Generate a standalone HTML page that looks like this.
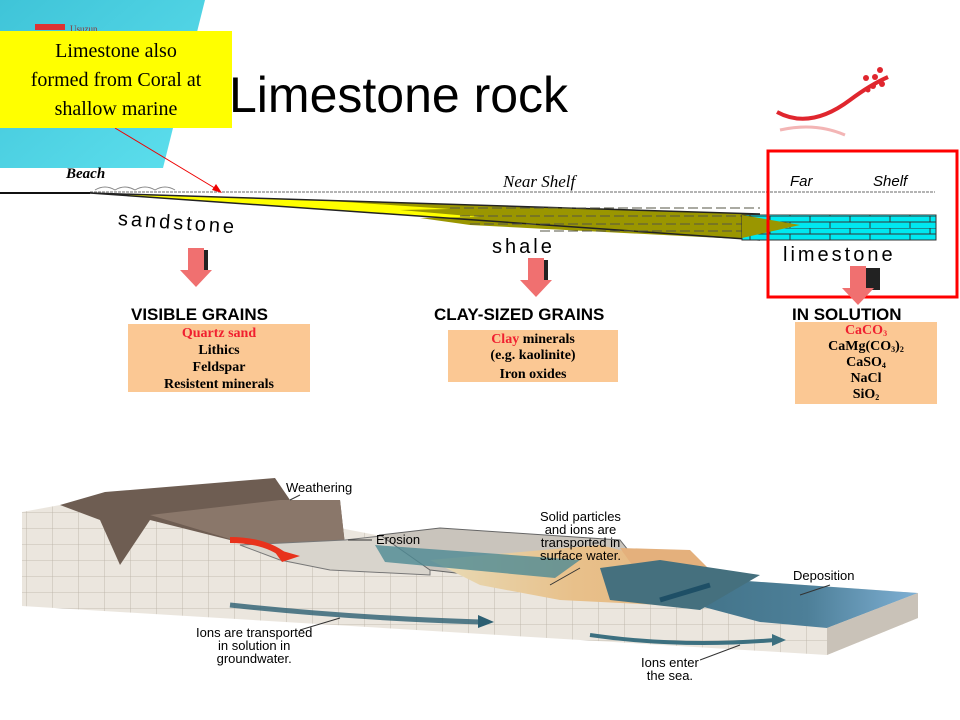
<!DOCTYPE html>
<html><head><meta charset="utf-8"><style>
body{margin:0;width:960px;height:720px;background:#fff;overflow:hidden;position:relative;font-family:"Liberation Sans",sans-serif}
.a{position:absolute}
sub{font-size:8px;line-height:0;vertical-align:-2px}
</style></head><body>
<svg class="a" style="left:0;top:0" width="960" height="720">
<defs>
<linearGradient id="cy" x1="0" y1="0" x2="1" y2="1"><stop offset="0" stop-color="#3fc4d8"/><stop offset="1" stop-color="#5ee0ee"/></linearGradient>
<pattern id="brick" width="40" height="12" patternUnits="userSpaceOnUse"><rect width="40" height="12" fill="#00e8f0"/><path d="M0 0H40M0 6H40M10 0V6M30 6V12" stroke="#333" stroke-width="1"/></pattern>
<pattern id="grid" width="26" height="16" patternUnits="userSpaceOnUse"><rect width="26" height="16" fill="#ebe6de"/><path d="M0 0H26M0 0V16" stroke="#b8b0a4" stroke-width="0.8"/></pattern>
<linearGradient id="sea" x1="0" y1="0" x2="1" y2="0"><stop offset="0" stop-color="#3d6e82"/><stop offset="0.6" stop-color="#4d7f98"/><stop offset="1" stop-color="#7fb0d4"/></linearGradient>
<linearGradient id="sand" x1="0" y1="0" x2="1" y2="0"><stop offset="0" stop-color="#e8dcb8"/><stop offset="0.5" stop-color="#e8c08a"/><stop offset="1" stop-color="#e4b480"/></linearGradient>
</defs>
<polygon points="0,0 205,0 163,168 0,168" fill="url(#cy)"/>
<rect x="35" y="24" width="30" height="6" fill="#d33"/>
<text x="70" y="32" font-size="9" font-family="Liberation Serif" fill="#833">Usuzun</text>
<path d="M777 112 Q810 130 850 100 Q870 85 888 77" stroke="#e0262e" stroke-width="4" fill="none"/>
<path d="M780 130 Q815 122 845 135" stroke="#f3b5b5" stroke-width="3" fill="none"/>
<g fill="#e0262e"><circle cx="866" cy="78" r="3"/><circle cx="875" cy="77" r="3"/><circle cx="880" cy="70" r="3"/><circle cx="873" cy="86" r="3"/><circle cx="882" cy="84" r="3"/><circle cx="868" cy="90" r="2.5"/></g>
<path d="M0 193 L90 193" stroke="#111" stroke-width="2"/>
<path d="M90 192 H935" stroke="#888" stroke-width="1.2" stroke-dasharray="3 1"/>
<path d="M95 190 q10 -6 20 0 q10 -6 20 0 q10 -6 20 0 q10 -6 20 0" stroke="#888" fill="none"/>
<polygon points="90,193 760,214 760,240" fill="#ffff00"/>
<polygon points="330,201 760,214 760,240 470,225 420,218 480,217 400,210 450,209" fill="#9a9600"/>
<path d="M90,193 L760,214 M90,193 L760,240" stroke="#222" stroke-width="1.5"/>
<path d="M450 208 H760 M460 216 H760 M470 224 H760 M540 231 H760" stroke="#554" stroke-width="1" stroke-dasharray="10 4"/>
<rect x="742" y="215" width="194" height="25" fill="url(#brick)" stroke="#333"/>
<polygon points="742,215 800,225 742,238" fill="#9a9600"/>
<rect x="768" y="151" width="189" height="146" fill="none" stroke="#f00" stroke-width="3"/>
<line x1="115" y1="128" x2="218" y2="190" stroke="#e00" stroke-width="1"/>
<polygon points="222,193 212,190 216,184" fill="#e00"/>
<g>
<rect x="192" y="250" width="16" height="22" fill="#222"/><rect x="188" y="248" width="16" height="22" fill="#f07070"/><polygon points="180,270 212,270 196,287" fill="#f07070"/>
<rect x="532" y="260" width="16" height="22" fill="#222"/><rect x="528" y="258" width="16" height="22" fill="#f07070"/><polygon points="520,280 552,280 536,297" fill="#f07070"/>
<rect x="864" y="268" width="16" height="22" fill="#222"/><rect x="850" y="266" width="16" height="22" fill="#f07070"/><polygon points="842,288 874,288 858,305" fill="#f07070"/>
</g>
<rect x="128" y="324" width="182" height="68" fill="#fbc894"/>
<rect x="448" y="330" width="170" height="52" fill="#fbc894"/>
<rect x="795" y="322" width="142" height="82" fill="#fbc894"/>
<!-- bottom illustration -->
<polygon points="22,512 60,505 280,485 300,520 350,530 480,555 705,578 918,593 918,618 827,655 22,606" fill="url(#grid)"/>
<polygon points="60,505 105,492 275,478 290,500 340,500 345,545 250,545 150,520 120,565 100,520" fill="#6e5d52"/>
<polygon points="150,515 280,500 340,500 345,545 250,545" fill="#8a776a"/>
<polygon points="240,545 345,540 390,535 430,550 430,575 330,570 280,560" fill="#d8d4cc" stroke="#777"/>
<polygon points="380,535 440,528 620,540 640,565 560,585 430,570" fill="#c9c4bc" stroke="#666"/>
<polygon points="430,560 600,545 700,570 720,585 660,605 560,600 480,585" fill="url(#sand)"/>
<polygon points="620,548 690,550 715,575 650,590" fill="#e4b07c"/>
<polygon points="375,545 580,560 555,578 385,562" fill="#4e8a94" opacity="0.8"/>
<polygon points="640,590 705,578 918,593 827,628 760,622" fill="url(#sea)"/>
<polygon points="600,568 660,560 760,575 700,610 610,600" fill="#45707e"/>
<polygon points="827,628 918,593 918,618 827,655" fill="#c9c2b8"/>
<path d="M230,540 Q265,540 285,556" stroke="#e8321c" stroke-width="6" fill="none"/>
<polygon points="272,548 300,556 282,562" fill="#e8321c"/>
<path d="M230,605 Q350,618 480,622" stroke="#2c5f72" stroke-width="5" fill="none" opacity="0.8"/>
<polygon points="478,615 494,622 478,628" fill="#2c5f72"/>
<path d="M590,635 Q680,648 775,640" stroke="#3c7080" stroke-width="4" fill="none"/>
<polygon points="772,634 786,640 772,646" fill="#3c7080"/>
<path d="M660,600 L710,585" stroke="#1e4f66" stroke-width="5"/>
<g stroke="#333" stroke-width="1"><line x1="290" y1="500" x2="300" y2="495"/><line x1="348" y1="540" x2="372" y2="540"/><line x1="550" y1="585" x2="580" y2="568"/><line x1="800" y1="595" x2="830" y2="585"/><line x1="300" y1="630" x2="340" y2="618"/><line x1="700" y1="660" x2="740" y2="645"/></g>
</svg>

<div class="a" style="left:0;top:31px;width:232px;height:97px;background:#ffff00;font-family:'Liberation Serif',serif;font-size:20px;line-height:29px;text-align:center;padding-top:6px;box-sizing:border-box">Limestone also<br>formed from Coral at<br>shallow marine</div>
<div class="a" style="left:229px;top:66px;font-size:50px;color:#000">Limestone rock</div>

<div class="a" style="left:66px;top:166px;font-family:'Liberation Serif',serif;font-style:italic;font-weight:bold;font-size:15px">Beach</div>
<div class="a" style="left:503px;top:172px;font-family:'Liberation Serif',serif;font-style:italic;font-size:17px">Near Shelf</div>
<div class="a" style="left:790px;top:173px;font-style:italic;font-size:15px">Far</div>
<div class="a" style="left:873px;top:173px;font-style:italic;font-size:15px">Shelf</div>
<div class="a" style="left:118px;top:208px;font-size:20px;letter-spacing:3px;transform:rotate(4deg);transform-origin:left">sandstone</div>
<div class="a" style="left:492px;top:236px;font-size:20px;letter-spacing:3px">shale</div>
<div class="a" style="left:783px;top:244px;font-size:20px;letter-spacing:3px">limestone</div>

<div class="a" style="left:131px;top:305px;font-size:17px;font-weight:bold">VISIBLE GRAINS</div>
<div class="a" style="left:434px;top:305px;font-size:17px;font-weight:bold">CLAY-SIZED GRAINS</div>
<div class="a" style="left:792px;top:305px;font-size:17px;font-weight:bold">IN SOLUTION</div>
<div class="a" style="left:128px;top:325px;width:182px;text-align:center;font-family:'Liberation Serif',serif;font-weight:bold;font-size:14px;line-height:17px"><span style="color:#f02030">Quartz sand</span><br>Lithics<br>Feldspar<br>Resistent minerals</div>
<div class="a" style="left:448px;top:332px;width:170px;text-align:center;font-family:'Liberation Serif',serif;font-weight:bold;font-size:14px;line-height:16px"><span style="color:#f02030">Clay</span> minerals<br>(e.g. kaolinite)<br><span style="line-height:22px">Iron oxides</span></div>
<div class="a" style="left:795px;top:323px;width:142px;text-align:center;font-family:'Liberation Serif',serif;font-weight:bold;font-size:14px;line-height:16px"><span style="color:#f02030">CaCO<sub>3</sub></span><br>CaMg(CO<sub>3</sub>)<sub>2</sub><br>CaSO<sub>4</sub><br>NaCl<br>SiO<sub>2</sub></div>

<div class="a" style="left:286px;top:480px;font-size:13px">Weathering</div>
<div class="a" style="left:376px;top:532px;font-size:13px">Erosion</div>
<div class="a" style="left:540px;top:510px;font-size:13px;line-height:13px;text-align:center">Solid particles<br>and ions are<br>transported in<br>surface water.</div>
<div class="a" style="left:793px;top:568px;font-size:13px">Deposition</div>
<div class="a" style="left:196px;top:626px;font-size:13px;line-height:13px;text-align:center">Ions are transported<br>in solution in<br>groundwater.</div>
<div class="a" style="left:641px;top:656px;font-size:13px;line-height:13px;text-align:center">Ions enter<br>the sea.</div>
</body></html>
